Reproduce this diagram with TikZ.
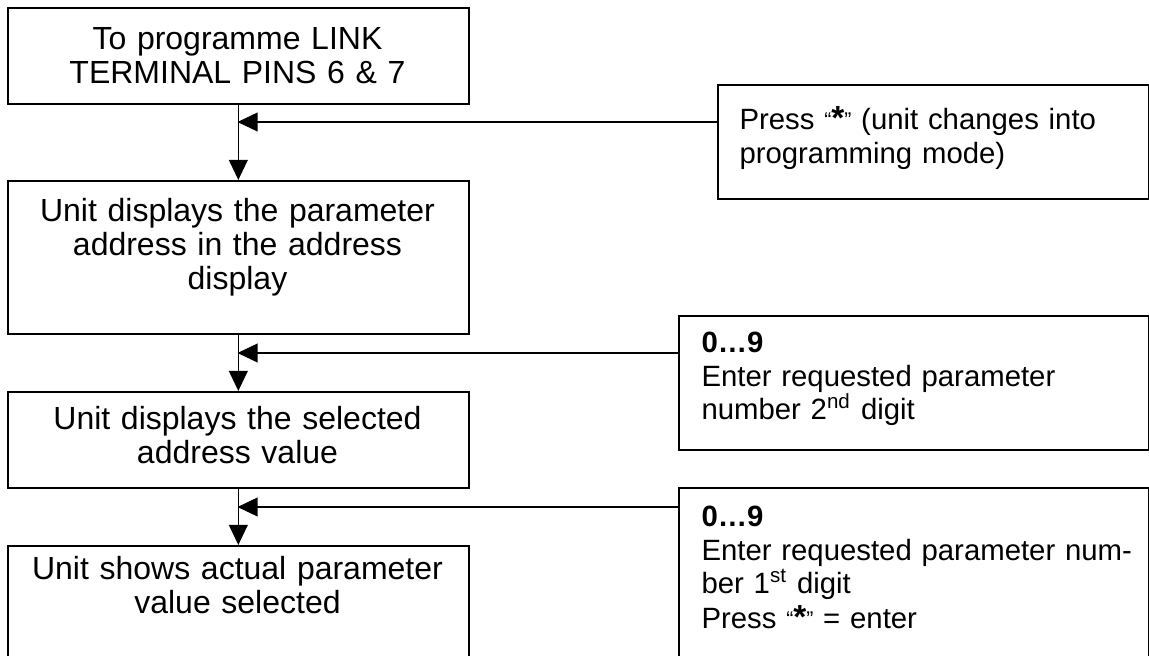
\documentclass[tikz,border=0pt]{standalone}
\usepackage{fontspec}
\setmainfont{Liberation Sans}
\usetikzlibrary{arrows.meta}
\usetikzlibrary{positioning}

\tikzset{
  kasten/.style={draw, line width=0.6pt, inner sep=0pt, anchor=north west},
  pfeil/.style={line width=0.6pt, -{Triangle[length=7.5pt,width=7pt]}},
  mitte/.style={anchor=base, text width=172pt, align=center, inner sep=0pt, font=\fontsize{12}{12.75}\selectfont},
  links/.style={anchor=base west, text width=170pt, align=left, inner sep=0pt, font=\fontsize{11}{12.4}\selectfont}
}
\newcommand{\stern}{{\fontsize{8}{8}\selectfont\raisebox{0.8pt}{“}}{\fontsize{12.5}{12.5}\selectfont\textbf{*}}{\fontsize{8}{8}\selectfont\raisebox{0.8pt}{”}}}

\begin{document}
\begin{tikzpicture}[x=0.375pt, y=-0.375pt] % 1 Einheit = 1 Pixel der Vorlage

\useasboundingbox (0,0) rectangle (1149,656);
\clip (0,0) rectangle (1149,656);

% Kästen links
\node[kasten, minimum width=172.9pt, minimum height=36pt] (b1) at (7,7) {};
\node[kasten, minimum width=172.9pt, minimum height=57.4pt] (b2) at (7,180) {};
\node[kasten, minimum width=172.9pt, minimum height=36pt] (b3) at (7,391) {};
\node[kasten, minimum width=172.9pt, minimum height=66pt] (b4) at (7,545) {}; % unten abgeschnitten

% Kästen rechts
\node[kasten, minimum width=161.6pt, minimum height=42.75pt] (r1) at (717,84) {};
\node[kasten, minimum width=176.25pt, minimum height=50.25pt] (r2) at (678,315) {};
\node[kasten, minimum width=176.25pt, minimum height=80pt] (r3) at (678,487) {}; % unten abgeschnitten

% Texte links
\node[mitte] (t1) at (237.5,50) {To programme LINK\\TERMINAL PINS 6 \& 7};
\node[mitte] (t2) at (237.5,222) {Unit displays the parameter\\address in the address\\display};
\node[mitte] (t3) at (237.5,430) {Unit displays the selected\\address value};
\node[mitte] (t4) at (237.5,580) {Unit shows actual parameter\\value selected};

% Texte rechts
\node[links] (s1) at (739,130) {Press \stern{} (unit changes into\\programming mode)};
\node[links] (s2) at (701,353) {\textbf{0…9}\\Enter requested parameter\\number 2\textsuperscript{nd} digit};
\node[links] (s3) at (701,527) {\textbf{0…9}\\Enter requested parameter num-\\ber 1\textsuperscript{st} digit\\[1pt]Press \stern{} = enter};

% Einmündungen auf der Mittellinie
\coordinate (j1) at (237.5,122);
\coordinate (j2) at (237.5,353);
\coordinate (j3) at (237.5,507);

% Pfeile
\foreach \von/\nach in {b1/b2, b2/b3, b3/b4}
  \draw[pfeil] (\von.south) -- (\nach.north);
\foreach \rechts/\punkt in {r1/j1, r2/j2, r3/j3}
  \draw[pfeil] (\rechts.west |- \punkt) -- (\punkt);

\end{tikzpicture}
\end{document}
